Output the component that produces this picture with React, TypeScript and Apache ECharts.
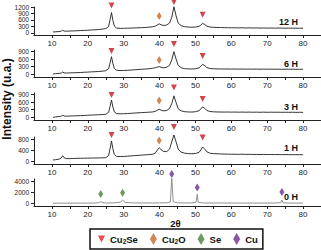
import React, { useEffect, useRef } from "react";
import * as echarts from "echarts";

// ---- data ----
const X_MAIN = [
  10.3, 11, 12, 12.6, 13, 13.4, 14, 15, 16, 17,
  18, 19, 20, 21, 22, 23, 24, 25, 25.8, 26.2,
  26.6, 27.0, 27.4, 28, 29, 30, 31, 32, 33, 34,
  35, 36, 37, 38, 38.8, 39.4, 39.9, 40.4, 41, 42,
  42.8, 43.4, 44.0, 44.6, 45.2, 46, 47, 48, 49, 50,
  51, 51.5, 52.0, 52.6, 53.2, 54, 55, 56, 57, 58,
  59, 60, 61, 62, 63, 64, 65, 66, 67, 68,
  69, 70, 71, 72, 73, 74, 75, 76, 77, 78,
  79, 80,
];
const Y_12H = [
  40, 50, 60, 80, 115, 85, 75, 85, 90, 100,
  105, 115, 120, 135, 140, 155, 170, 200, 290, 610,
  940, 570, 310, 225, 205, 210, 215, 220, 228, 235,
  240, 250, 262, 280, 310, 370, 415, 380, 340, 365,
  460, 720, 1210, 800, 450, 335, 285, 268, 262, 268,
  300, 360, 440, 385, 310, 272, 255, 250, 244, 242,
  238, 236, 234, 230, 236, 226, 232, 225, 230, 222,
  226, 220, 225, 218, 223, 220, 215, 221, 214, 218,
  212, 216,
];
const Y_6H = [
  20, 30, 40, 55, 95, 60, 55, 60, 65, 70,
  75, 85, 90, 100, 105, 115, 125, 145, 220, 450,
  690, 420, 230, 165, 150, 155, 160, 170, 180, 190,
  200, 210, 220, 240, 260, 285, 305, 280, 255, 280,
  360, 560, 885, 600, 350, 260, 225, 215, 212, 220,
  255, 320, 394, 340, 265, 230, 220, 215, 213, 210,
  212, 208, 211, 206, 210, 205, 209, 204, 208, 203,
  207, 202, 206, 203, 205, 200, 204, 201, 203, 200,
  202, 199,
];
const Y_3H = [
  5, 20, 35, 50, 85, 55, 50, 55, 60, 65,
  70, 78, 85, 92, 98, 105, 112, 122, 200, 430,
  678, 400, 215, 150, 140, 145, 150, 160, 170, 180,
  188, 195, 203, 212, 235, 280, 316, 285, 255, 270,
  350, 540, 840, 580, 340, 255, 225, 212, 210, 222,
  262, 330, 410, 355, 270, 232, 218, 213, 210, 208,
  210, 206, 209, 204, 208, 203, 207, 202, 206, 201,
  205, 200, 204, 201, 203, 199, 202, 198, 201, 197,
  200, 196,
];
const Y_1H = [
  48, 60, 80, 120, 207, 130, 100, 100, 105, 110,
  112, 115, 118, 120, 122, 125, 128, 133, 210, 470,
  752, 460, 250, 180, 175, 180, 190, 200, 210, 220,
  230, 238, 248, 259, 300, 420, 503, 440, 370, 360,
  460, 720, 975, 720, 450, 340, 300, 285, 280, 290,
  330, 420, 530, 450, 350, 300, 285, 278, 272, 268,
  265, 262, 260, 258, 262, 255, 258, 252, 256, 250,
  254, 249, 252, 248, 251, 246, 250, 245, 248, 244,
  246, 243,
];
const X_ZERO = [
  10.3, 12, 14, 16, 18, 20, 22, 23.0, 23.6, 24.2,
  25, 27, 29.0, 29.7, 30.4, 32, 34, 36, 38, 40,
  42, 43.0, 43.4, 43.8, 45, 47, 49, 50.2, 50.5, 50.8,
  52, 54, 56, 58, 60, 62, 64, 66, 68, 70,
  72, 73.8, 74.1, 74.4, 76, 78, 80,
];
const Y_0H = [
  20, 30, 25, 35, 30, 40, 50, 120, 300, 110,
  60, 70, 200, 550, 180, 80, 60, 70, 60, 80,
  90, 250, 4630, 300, 90, 70, 80, 200, 1670, 180,
  70, 60, 50, 60, 50, 55, 45, 50, 40, 50,
  45, 120, 611, 110, 40, 45, 40,
];

const CU2SE_X = [26.6, 44.0, 52.0];
const CU2O_X = [39.9];
const SE_X = [23.6, 29.7];
const CU_X = [43.4, 50.5, 74.1];

const CU2SE_Y_12H = [1270, 1430, 842];
const CU2O_Y_12H = [782];
const CU2SE_Y_6H = [910, 1185, 717];
const CU2O_Y_6H = [561];
const CU2SE_Y_3H = [873, 1160, 717];
const CU2O_Y_3H = [659];
const CU2SE_Y_1H = [974, 1270, 880];
const CU2O_Y_1H = [770];
const SE_Y_0H = [1720, 1960];
const CU_Y_0H = [5430, 2930, 2090];

const PANEL_LABELS = ["12 H", "6 H", "3 H", "1 H", "0 H"];
const Y_MIN = [-100, -100, -100, -100, -500];
const Y_MAX = [1200, 950, 950, 900, 4500];
const Y_TICKS = [
  [0, 300, 600, 900, 1200],
  [0, 300, 600, 900],
  [0, 300, 600, 900],
  [0, 400, 800],
  [0, 2000, 4000],
];
const X_LABELS = [10, 20, 30, 40, 50, 60, 70, 80];
const X_TICKS = [10, 15, 20, 25, 30, 35, 40, 45, 50, 55, 60, 65, 70, 75, 80];

// ---- layout / style ----
const FONT = 'Arial, "Liberation Sans", Helvetica, sans-serif';
const GRID_TOP = [7, 50, 93, 137, 179];
const GRID_H = [28, 27, 27, 27, 27];
const LABEL_Y = [22, 64, 107, 148, 196.5];
const TRI = "path://M0,0L10,0L5,10Z";
const RED = "#c8141e";
const ORANGE = "#c8692a";
const GREEN = "#4f7d38";
const PURPLE = "#6a2d90";

const pairs = (xs: number[], ys: number[]) => xs.map((x, i) => [x, ys[i]]);

export default function App() {
  const ref = useRef<HTMLDivElement>(null);
  useEffect(() => {
    document.body.style.margin = "0";
    const chart = echarts.init(ref.current!, null, { renderer: "svg" });
    const specX = [X_MAIN, X_MAIN, X_MAIN, X_MAIN, X_ZERO];
    const specY = [Y_12H, Y_6H, Y_3H, Y_1H, Y_0H];
    const markers: any[] = [
      [["Cu2Se", CU2SE_X, CU2SE_Y_12H], ["Cu2O", CU2O_X, CU2O_Y_12H]],
      [["Cu2Se", CU2SE_X, CU2SE_Y_6H], ["Cu2O", CU2O_X, CU2O_Y_6H]],
      [["Cu2Se", CU2SE_X, CU2SE_Y_3H], ["Cu2O", CU2O_X, CU2O_Y_3H]],
      [["Cu2Se", CU2SE_X, CU2SE_Y_1H], ["Cu2O", CU2O_X, CU2O_Y_1H]],
      [["Se", SE_X, SE_Y_0H], ["Cu", CU_X, CU_Y_0H]],
    ];
    const markStyle: Record<string, any> = {
      Cu2Se: { symbol: TRI, symbolSize: [6, 6], color: RED },
      Cu2O: { symbol: "diamond", symbolSize: [5, 8], color: ORANGE },
      Se: { symbol: "diamond", symbolSize: [5, 8], color: GREEN },
      Cu: { symbol: "diamond", symbolSize: [5, 8], color: PURPLE },
    };

    const grids = GRID_TOP.map((t, i) => ({
      left: 34,
      right: 0,
      top: t,
      height: GRID_H[i],
      containLabel: false,
      outerBoundsMode: "none",
    }));
    const xAxes = GRID_TOP.map((_, i) => ({
      type: "value",
      gridIndex: i,
      min: 5,
      max: 85,
      axisLine: { onZero: false, lineStyle: { color: "#222", width: 1 } },
      axisTick: { customValues: X_TICKS, length: 3, lineStyle: { color: "#222" } },
      axisLabel: {
        customValues: X_LABELS,
        fontSize: 8,
        margin: 4,
        color: "#222",
        fontFamily: FONT,
        showMinLabel: true,
        showMaxLabel: true,
        hideOverlap: false,
        formatter: (v: number) => String(v),
      },
      splitLine: { show: false },
    }));
    const yLabelStyle = {
      fontSize: 6.5,
      lineHeight: 6.5,
      margin: 5,
      color: "#222",
      fontFamily: FONT,
      showMinLabel: true,
      showMaxLabel: true,
      hideOverlap: false,
      formatter: (v: number) => String(v),
    };
    // main axes carry the even-indexed labels, twin axes the odd-indexed ones
    const yAxes: any[] = GRID_TOP.map((_, i) => ({
      type: "value",
      gridIndex: i,
      min: Y_MIN[i],
      max: Y_MAX[i],
      position: "left",
      axisLine: { show: true, onZero: false, lineStyle: { color: "#222", width: 1 } },
      axisTick: { show: true, customValues: Y_TICKS[i], length: 3, lineStyle: { color: "#222" } },
      axisLabel: { ...yLabelStyle, customValues: Y_TICKS[i].filter((_, k) => k % 2 === 0) },
      splitLine: { show: false },
    }));
    GRID_TOP.forEach((_, i) => {
      yAxes.push({
        type: "value",
        gridIndex: i,
        min: Y_MIN[i],
        max: Y_MAX[i],
        position: "left",
        offset: 0,
        axisLine: { show: false },
        axisTick: { show: false },
        axisLabel: { ...yLabelStyle, customValues: Y_TICKS[i].filter((_, k) => k % 2 === 1) },
        splitLine: { show: false },
      });
    });

    const series: any[] = [];
    specX.forEach((xs, i) => {
      series.push({
        type: "line",
        xAxisIndex: i,
        yAxisIndex: i,
        data: pairs(xs, specY[i]),
        symbol: "none",
        clip: false,
        lineStyle: { color: i === 4 ? "#858585" : "#1e1e1e", width: 0.9 },
        silent: true,
        z: 2,
      });
      markers[i].forEach(([name, mx, my]: any) => {
        const st = markStyle[name];
        series.push({
          type: "scatter",
          name,
          xAxisIndex: i,
          yAxisIndex: i,
          data: pairs(mx, my),
          symbol: st.symbol,
          symbolSize: st.symbolSize,
          itemStyle: { color: st.color },
          clip: false,
          z: 3,
        });
      });
    });

    const graphics: any[] = PANEL_LABELS.map((t, i) => ({
      type: "text",
      x: 298,
      y: LABEL_Y[i],
      style: {
        text: t,
        align: "right",
        verticalAlign: "middle",
        font: `bold 9px ${FONT}`,
        fill: "#111",
      },
    }));
    graphics.push({
      type: "text",
      x: 7,
      y: 99,
      rotation: Math.PI / 2,
      style: {
        text: "Intensity (u.a.)",
        align: "center",
        verticalAlign: "middle",
        font: `bold 12px ${FONT}`,
        fill: "#111",
      },
    });
    graphics.push({
      type: "text",
      x: 175.5,
      y: 223.5,
      style: {
        text: "2θ",
        align: "center",
        verticalAlign: "middle",
        font: `bold 9.5px ${FONT}`,
        fill: "#111",
      },
    });

    chart.setOption({
      animation: false,
      backgroundColor: "#fff",
      grid: grids,
      xAxis: xAxes,
      yAxis: yAxes,
      series,
      graphic: graphics,
      legend: {
        data: [
          { name: "Cu2Se", icon: TRI, itemStyle: { color: "#ea1b22" } },
          { name: "Cu2O", icon: "diamond" },
          { name: "Se", icon: "diamond" },
          { name: "Cu", icon: "diamond" },
        ],
        left: 90,
        top: 229,
        orient: "horizontal",
        itemWidth: 7,
        itemHeight: 12,
        itemGap: 12,
        padding: [4, 5, 4, 8],
        borderColor: "#111",
        borderWidth: 1.5,
        selectedMode: false,
        formatter: (name: string) =>
          name === "Cu2Se"
            ? "{b|Cu}{s|2}{b|Se}"
            : name === "Cu2O"
            ? "{b|Cu}{s|2}{b|O}"
            : `{b|${name}}`,
        textStyle: {
          fontFamily: FONT,
          rich: {
            b: { fontSize: 9.5, fontWeight: "bold", color: "#111", fontFamily: FONT },
            s: {
              fontSize: 6.5,
              fontWeight: "bold",
              color: "#111",
              fontFamily: FONT,
              verticalAlign: "bottom",
              padding: [4, 0, 0, 0],
            },
          },
        },
      },
    });
    return () => chart.dispose();
  }, []);
  return (
    <div
      ref={ref}
      style={{ position: "absolute", left: 0, top: 0, width: 321, height: 250 }}
    />
  );
}
